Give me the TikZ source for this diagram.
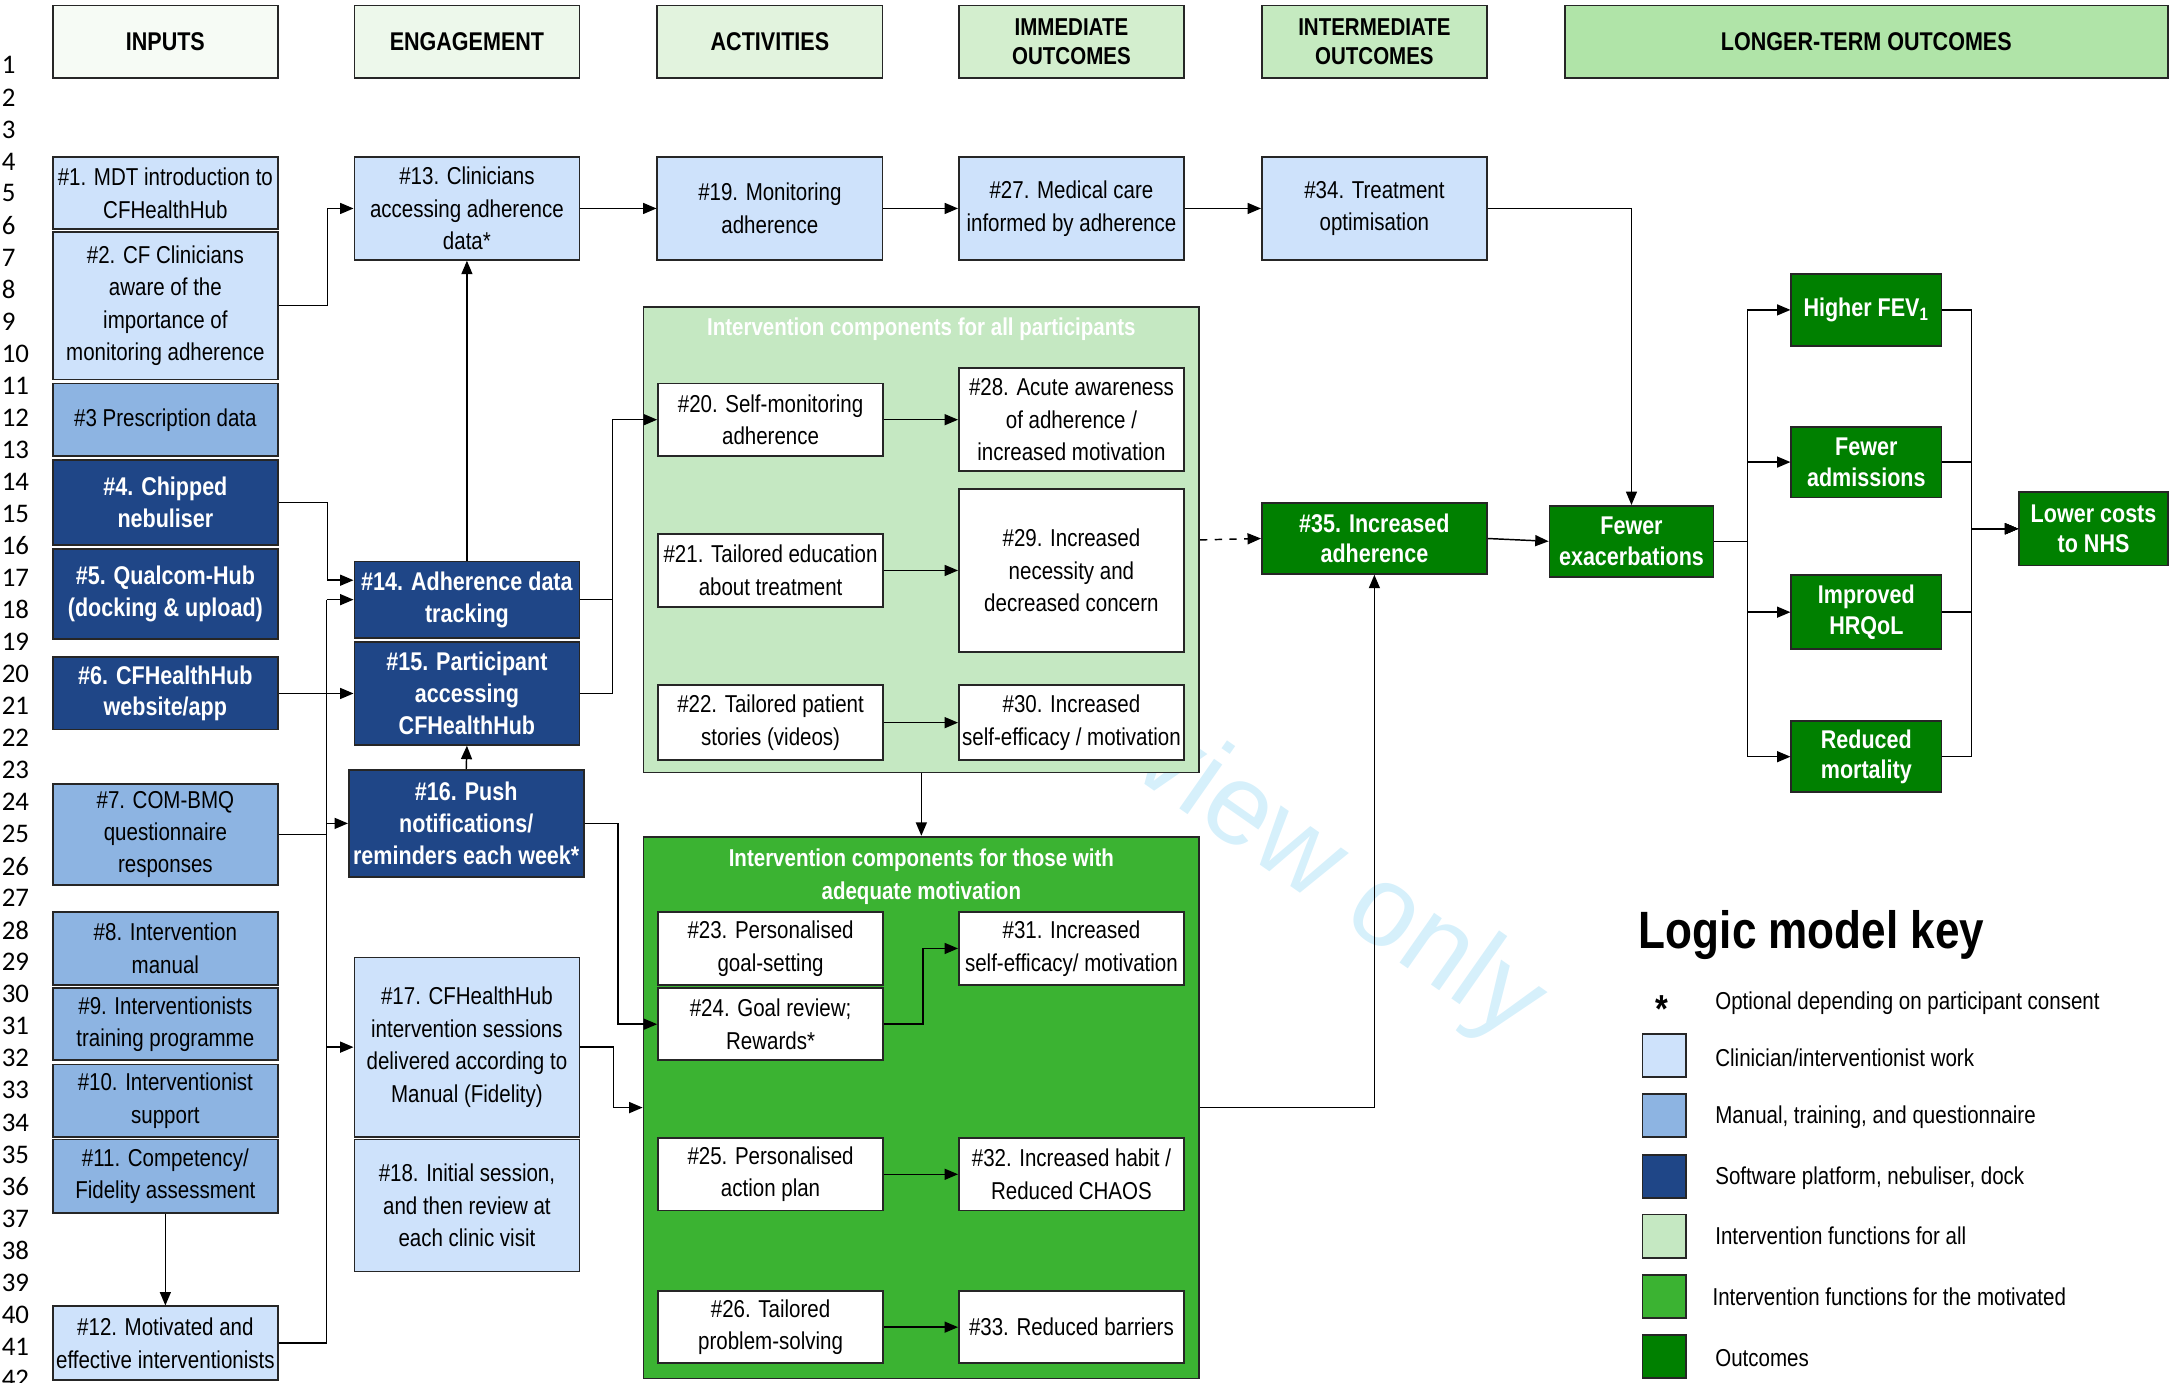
\documentclass[tikz,border=0pt]{standalone}
\usepackage{fontspec}
\setmainfont{Liberation Sans}[FakeStretch=0.84]
\newfontfamily\wmfont{Liberation Sans}
\newfontfamily\rowfont{Carlito}
\usetikzlibrary{arrows.meta,calc}

\definecolor{clinblue}{RGB}{206,226,251}
\definecolor{manblue}{RGB}{141,180,226}
\definecolor{softblue}{RGB}{31,70,135}
\definecolor{allgreen}{RGB}{197,232,194}
\definecolor{motgreen}{RGB}{59,179,50}
\definecolor{outgreen}{RGB}{0,128,0}
\definecolor{wmblue}{RGB}{214,240,251}
\definecolor{hdrA}{RGB}{246,251,245}
\definecolor{hdrB}{RGB}{237,248,235}
\definecolor{hdrC}{RGB}{226,243,222}
\definecolor{hdrD}{RGB}{211,238,206}
\definecolor{hdrE}{RGB}{197,234,192}
\definecolor{hdrF}{RGB}{176,228,168}

\tikzset{
  box/.style={draw=black!85, line width=0.7pt, inner sep=1pt, align=center,
    font=\fontsize{10}{13.3}\selectfont, minimum width=3.24cm},
  clin/.style={box, fill=clinblue},
  man/.style={box, fill=manblue},
  soft/.style={box, fill=softblue, text=white, font=\fontsize{10.5}{13}\selectfont\bfseries},
  act/.style={box, fill=white},
  outc/.style={box, fill=outgreen, text=white, font=\fontsize{10.5}{12.5}\selectfont\bfseries},
  hdr/.style={box, minimum height=1.04cm, font=\fontsize{10.5}{12}\selectfont\bfseries},
  grp/.style={draw=black!85, line width=0.7pt, minimum width=8cm},
  grptitle/.style={text=white, align=center, inner sep=0pt, font=\fontsize{10}{13.3}\selectfont\bfseries},
  conn/.style={line width=0.6pt},
  arr/.style={line width=0.6pt, -{Triangle[length=5.5pt,width=4.5pt]}},
  keysq/.style={draw=black!85, line width=0.7pt, minimum size=0.62cm, inner sep=0pt},
  keytxt/.style={anchor=west, inner sep=0pt, font=\fontsize{10}{12}\selectfont},
  rownum/.style={anchor=west, inner sep=0pt, font=\rowfont\fontsize{11}{12}\selectfont}
}

\begin{document}
\begin{tikzpicture}[x=0.02cm, y=-0.02cm]
\useasboundingbox (0,0) rectangle (1568,995);
\node[text=wmblue, font=\wmfont\fontsize{47}{50}\selectfont, rotate=-35] (wm) at (795,518) {For peer review only};

\foreach \r in {1,...,42}
  \node[rownum] (r\r) at (1,{47+(\r-1)*23.05}) {\r};

\node[hdr, fill=hdrA] (hIn) at (119,30) {INPUTS};
\node[hdr, fill=hdrB] (hEng) at (336,30) {ENGAGEMENT};
\node[hdr, fill=hdrC] (hAct) at (554,30) {ACTIVITIES};
\node[hdr, fill=hdrD, font=\fontsize{10}{12}\selectfont\bfseries] (hImm) at (771,30) {IMMEDIATE\\OUTCOMES};
\node[hdr, fill=hdrE, font=\fontsize{10}{12}\selectfont\bfseries] (hInt) at (989,30) {INTERMEDIATE\\OUTCOMES};
\node[hdr, fill=hdrF, minimum width=8.68cm] (hLong) at (1343,30) {LONGER-TERM OUTCOMES};

\node[clin, minimum height=1.04cm] (n1) at (119,139) {\#1. MDT introduction to\\CFHealthHub};
\node[clin, minimum height=2.12cm] (n2) at (119,220) {\#2. CF Clinicians\\aware of the\\importance of\\monitoring adherence};
\node[man, minimum height=1.04cm] (n3) at (119,302) {\#3 Prescription data};
\node[soft, minimum height=1.22cm] (n4) at (119,361.5) {\#4. Chipped\\nebuliser};
\node[soft, minimum height=1.30cm] (n5) at (119,427.5) {\#5. Qualcom-Hub\\(docking \& upload)};
\node[soft, minimum height=1.04cm] (n6) at (119,499) {\#6. CFHealthHub\\website/app};
\node[man, minimum height=1.46cm] (n7) at (119,600.5) {\#7. COM-BMQ\\questionnaire\\responses};
\node[man, minimum height=1.06cm] (n8) at (119,682.5) {\#8. Intervention\\manual};
\node[man, minimum height=1.04cm] (n9) at (119,737) {\#9. Interventionists\\training programme};
\node[man, minimum height=1.04cm] (n10) at (119,792) {\#10. Interventionist\\support};
\node[man, minimum height=1.06cm] (n11) at (119,846.5) {\#11. Competency/\\Fidelity assessment};
\node[clin, minimum height=1.06cm] (n12) at (119,966.5) {\#12. Motivated and\\effective interventionists};

\node[clin, minimum height=1.48cm] (n13) at (336,150) {\#13. Clinicians\\accessing adherence\\data*};
\node[soft, minimum height=1.10cm] (n14) at (336,431.5) {\#14. Adherence data\\tracking};
\node[soft, minimum height=1.48cm] (n15) at (336,499) {\#15. Participant\\accessing\\CFHealthHub};
\node[soft, minimum height=1.54cm, minimum width=3.38cm] (n16) at (335.5,592.5) {\#16. Push\\notifications/\\reminders each week*};
\node[clin, minimum height=2.58cm] (n17) at (336,753.5) {\#17. CFHealthHub\\intervention sessions\\delivered according to\\Manual (Fidelity)};
\node[clin, minimum height=1.90cm] (n18) at (336,867.5) {\#18. Initial session,\\and then review at\\each clinic visit};

\node[clin, minimum height=1.48cm] (n19) at (554,150) {\#19. Monitoring\\adherence};
\node[grp, fill=allgreen, minimum height=6.70cm] (grpall) at (663,388.5) {};
\node[grptitle] (tall) at (663,237) {Intervention components for all participants};
\node[act, minimum height=1.04cm] (n20) at (554.5,302) {\#20. Self-monitoring\\adherence};
\node[act, minimum height=1.06cm] (n21) at (554.5,410.5) {\#21. Tailored education\\about treatment};
\node[act, minimum height=1.08cm] (n22) at (554.5,520) {\#22. Tailored patient\\stories (videos)};
\node[grp, fill=motgreen, minimum height=7.80cm] (grpmot) at (663,797) {};
\node[grptitle] (tmot) at (663,631) {Intervention components for those with\\adequate motivation};
\node[act, minimum height=1.06cm] (n23) at (554.5,682.5) {\#23. Personalised\\goal-setting};
\node[act, minimum height=1.04cm] (n24) at (554.5,737) {\#24. Goal review;\\Rewards*};
\node[act, minimum height=1.04cm] (n25) at (554.5,845) {\#25. Personalised\\action plan};
\node[act, minimum height=1.04cm] (n26) at (554.5,955) {\#26. Tailored\\problem-solving};

\node[clin, minimum height=1.48cm] (n27) at (771,150) {\#27. Medical care\\informed by adherence};
\node[act, minimum height=1.48cm] (n28) at (771,302) {\#28. Acute awareness\\of adherence /\\increased motivation};
\node[act, minimum height=2.34cm] (n29) at (771,410.5) {\#29. Increased\\necessity and\\decreased concern};
\node[act, minimum height=1.08cm] (n30) at (771,520) {\#30. Increased\\self-efficacy / motivation};
\node[act, minimum height=1.06cm] (n31) at (771,682.5) {\#31. Increased\\self-efficacy/ motivation};
\node[act, minimum height=1.04cm] (n32) at (771,845) {\#32. Increased habit /\\Reduced CHAOS};
\node[act, minimum height=1.04cm] (n33) at (771,955) {\#33. Reduced barriers};

\node[clin, minimum height=1.48cm] (n34) at (989,150) {\#34. Treatment\\optimisation};
\node[outc, minimum height=1.02cm] (n35) at (989,387.5) {\#35. Increased\\adherence};

\node[outc, minimum width=2.36cm, minimum height=1.02cm] (exac) at (1174,389.5) {Fewer\\exacerbations};
\node[outc, minimum width=2.16cm, minimum height=1.04cm] (fev) at (1343,223) {Higher FEV\textsubscript{1}};
\node[outc, minimum width=2.16cm, minimum height=1.02cm] (adm) at (1343,332.5) {Fewer\\admissions};
\node[outc, minimum width=2.16cm, minimum height=1.06cm] (hrqol) at (1343,440.5) {Improved\\HRQoL};
\node[outc, minimum width=2.16cm, minimum height=1.02cm] (mort) at (1343,544.5) {Reduced\\mortality};
\node[outc, minimum width=2.14cm, minimum height=1.06cm] (costs) at (1506.5,380.5) {Lower costs\\to NHS};

\node[anchor=west, inner sep=0pt, font=\fontsize{21.5}{24}\selectfont\bfseries] (ktitle) at (1179,673) {Logic model key};
\node[inner sep=0pt, font=\fontsize{16}{16}\selectfont\bfseries] (kstar) at (1196,726) {*};
\node[keytxt] (kt0) at (1234,722) {Optional depending on participant consent};
\node[keysq, fill=clinblue] (k1) at (1197.5,759.5) {};
\node[keytxt] (kt1) at (1234,761) {Clinician/interventionist work};
\node[keysq, fill=manblue] (k2) at (1197.5,802.5) {};
\node[keytxt] (kt2) at (1234,804) {Manual, training, and questionnaire};
\node[keysq, fill=softblue] (k3) at (1197.5,846.5) {};
\node[keytxt] (kt3) at (1234,848) {Software platform, nebuliser, dock};
\node[keysq, fill=allgreen] (k4) at (1197.5,889.5) {};
\node[keytxt] (kt4) at (1234,889) {Intervention functions for all};
\node[keysq, fill=motgreen] (k5) at (1197.5,933) {};
\node[keytxt] (kt5) at (1232,933) {Intervention functions for the motivated};
\node[keysq, fill=outgreen] (k6) at (1197.5,976) {};
\node[keytxt] (kt6) at (1234,977) {Outcomes};

\coordinate (busT) at (235,431.5);
\coordinate (busB) at (235,966.5);
\draw[arr] (n2.east) -- ++(35,0) |- (n13.west);
\draw[arr] (n4.east) -- ++(35,0) |- ($(n14.west)+(0,-14)$);
\draw[conn] (n12.east) -- (busB) -- (busT);
\draw[conn] (n7.east) -- (busT |- n7.east);
\draw[arr] (busT) -- (n14.west);
\draw[arr] (busT |- n16.west) -- (n16.west);
\draw[arr] (busT |- n17.west) -- (n17.west);
\draw[arr] (n6.east) -- (n15.west);
\draw[arr] (n11.south) -- (n12.north);
\draw[arr] (n14.north) -- (n13.south);
\draw[arr] (n16.north) -- (n15.south);
\draw[arr] (n13.east) -- (n19.west);
\draw[arr] (n19.east) -- (n27.west);
\draw[arr] (n27.east) -- (n34.west);
\draw[arr] (n34.east) -| (exac.north);
\draw[arr] (n14.east) -- ++(23,0) |- (n20.west);
\draw[conn] (n15.east) -| ($(n14.east)+(23,0)$);
\draw[arr] (n16.east) -- ++(24,0) |- (n24.west);
\draw[arr] (n17.east) -- ++(24,0) |- (grpmot.west);
\draw[arr] (n20.east) -- (n28.west);
\draw[arr] (n21.east) -- (n29.west);
\draw[arr] (n22.east) -- (n30.west);
\draw[arr] (n24.east) -- ++(28,0) |- (n31.west);
\draw[arr] (n25.east) -- (n32.west);
\draw[arr] (n26.east) -- (n33.west);
\draw[arr] (grpall.south) -- (grpmot.north);
\draw[arr, dashed] (grpall.east) -- (n35.west);
\draw[arr] (grpmot.east) -| (n35.south);
\draw[arr] (n35.east) -- (exac.west);
\draw[arr] (exac.east) -- ++(24,0) |- (fev.west);
\draw[arr] (exac.east) -- ++(24,0) |- (adm.west);
\draw[arr] (exac.east) -- ++(24,0) |- (hrqol.west);
\draw[arr] (exac.east) -- ++(24,0) |- (mort.west);
\draw[arr] (fev.east) -- ++(21,0) |- (costs.west);
\draw[arr] (adm.east) -- ++(21,0) |- (costs.west);
\draw[arr] (hrqol.east) -- ++(21,0) |- (costs.west);
\draw[arr] (mort.east) -- ++(21,0) |- (costs.west);
\end{tikzpicture}
\end{document}
